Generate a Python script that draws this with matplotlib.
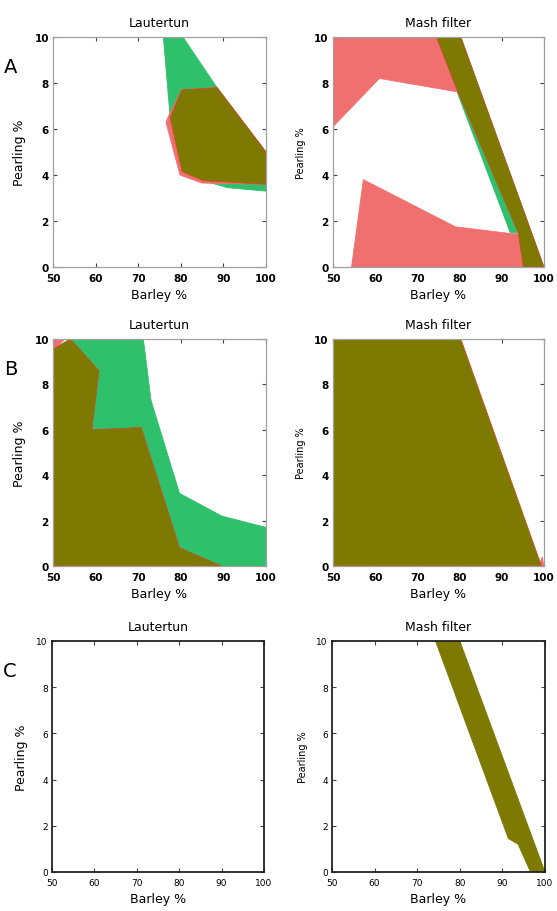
import matplotlib
matplotlib.use("Agg")
import matplotlib.pyplot as plt
from matplotlib.patches import Polygon

# colours of the three regions
GREEN = "#2fc06c"
RED = "#f07070"
OLIVE = "#7e7900"

# polygons (barley %, pearling %)
a_laut_green = [(75.9, 10), (80.5, 10), (88.5, 7.8), (100, 5.0), (100, 3.3),
                (91, 3.45), (85.3, 3.75), (80.3, 4.15), (77.5, 6.5)]
a_laut_red = [(77.2, 6.6), (80.2, 7.7), (88.5, 7.8), (100, 5.0), (100, 3.6),
              (85, 3.65), (79.8, 4.0), (76.5, 6.3)]
a_laut_olive = [(77.5, 6.5), (80.2, 7.7), (88.5, 7.8), (100, 5.0), (100, 3.6),
                (85.3, 3.75), (80.3, 4.15)]

a_mash_green = [(74.5, 10), (80.3, 10), (100, 0), (95.1, 0), (93.9, 1.5),
                (92.0, 1.5)]
a_mash_red = [(50, 10), (78, 10), (80.0, 7.6), (61, 8.2), (50, 6.1)]
a_mash_red2 = [(54.4, 0), (57.2, 3.8), (79, 1.75), (92.3, 1.45), (93.9, 1.45),
               (95.3, 0)]
a_mash_olive = [(74.5, 10), (80.3, 10), (100, 0), (95.1, 0), (93.9, 1.5),
                (79.4, 7.7)]

b_laut_green = [(50, 9.55), (54.1, 10), (71.2, 10), (73, 7.3), (79.7, 3.2),
                (89.6, 2.2), (100, 1.7), (100, 0), (50, 0)]
b_laut_red = [(50, 10), (52.8, 10), (50, 9.5)]
b_laut_olive = [(50, 0), (50, 9.55), (54.1, 10), (60.8, 8.6), (59.1, 6.0),
                (70.7, 6.1), (79.7, 0.8), (89.6, 0)]

b_mash_red = [(98.8, 0), (100, 0), (99.6, 0.4)]
b_mash_olive = [(50, 0), (50, 10), (80.3, 10), (99.4, 0)]

c_mash_olive = [(74.3, 10), (80, 10), (100, 0), (96.6, 0), (93.7, 1.2),
                (91.4, 1.45)]

panels = [
    # rect, title, letter, frame colour, y label size, layers
    ([0.0952, 0.7061, 0.3824, 0.2522], "Lautertun", "A", "#a0a0a0", 9,
     [(a_laut_green, GREEN), (a_laut_red, RED), (a_laut_olive, OLIVE)]),
    ([0.5978, 0.7061, 0.3788, 0.2522], "Mash filter", None, "#a0a0a0", 7,
     [(a_mash_green, GREEN), (a_mash_red, RED), (a_mash_red2, RED),
      (a_mash_olive, OLIVE)]),
    ([0.0952, 0.3783, 0.3824, 0.2489], "Lautertun", "B", "#a0a0a0", 9,
     [(b_laut_green, GREEN), (b_laut_red, RED), (b_laut_olive, OLIVE)]),
    ([0.5978, 0.3783, 0.3788, 0.2489], "Mash filter", None, "#a0a0a0", 7,
     [(b_mash_red, RED), (b_mash_olive, OLIVE)]),
    ([0.0934, 0.0428, 0.3806, 0.2533], "Lautertun", "C", "#222222", 9, []),
    ([0.5960, 0.0428, 0.3824, 0.2533], "Mash filter", None, "#222222", 7,
     [(c_mash_olive, OLIVE)]),
]

fig = plt.figure(figsize=(5.57, 9.12), dpi=100)

for rect, title, letter, frame, ylsize, layers in panels:
    ax = fig.add_axes(rect)
    dark = frame == "#222222"
    for pts, col in layers:
        edge = "#c8502a" if col == OLIVE and not dark else col
        ax.add_patch(Polygon(pts, closed=True, facecolor=col, edgecolor=edge,
                             linewidth=0.6, zorder=2))
    ax.set_xlim(50, 100)
    ax.set_ylim(0, 10)
    ax.set_xticks([50, 60, 70, 80, 90, 100])
    ax.set_yticks([0, 2, 4, 6, 8, 10])
    ax.tick_params(direction="in", top=True, right=True, length=3,
                   labelsize=6.5 if dark else 7.5, color="#444444")
    ax.tick_params(axis="x", pad=4)
    ax.tick_params(axis="y", pad=3)
    if not dark:
        for lab in ax.get_xticklabels() + ax.get_yticklabels():
            lab.set_fontweight("bold")
    for sp in ax.spines.values():
        sp.set_color(frame)
        sp.set_linewidth(1.3 if dark else 0.9)
        sp.set_zorder(3)
    ax.set_title(title, fontsize=9, pad=8)
    ax.set_xlabel("Barley %", fontsize=9, labelpad=4)
    ax.set_ylabel("Pearling %", fontsize=ylsize, labelpad=6)
    if letter:
        ax.text(-0.2, 0.87, letter, transform=ax.transAxes, fontsize=14,
                ha="center", va="center")

fig.savefig("out.png", dpi=100)
